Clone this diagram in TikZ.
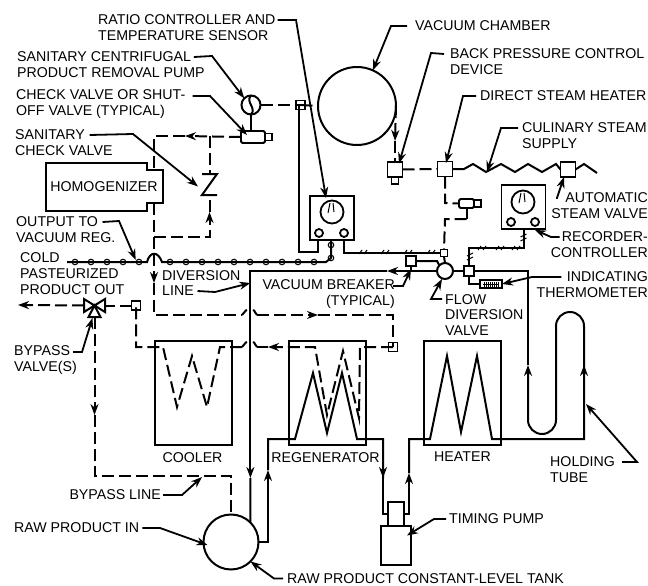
\documentclass[tikz,border=0pt]{standalone}
\usepackage{fontspec}
\setmainfont{Liberation Sans}
\usepackage{tikz}
\usetikzlibrary{arrows.meta}
\usetikzlibrary{positioning}

\begin{document}
\begin{tikzpicture}[
    x=1pt, y=-1pt,
    >={Stealth[length=11pt, width=8pt]},
    pipe/.style={line width=2pt},
    dashpipe/.style={line width=2pt, dash pattern=on 12pt off 5pt},
    leader/.style={->, line width=1.8pt},
    lbl/.style={inner sep=0pt, align=left, font=\fontsize{14.2}{15.9}\selectfont},
    lblw/.style={lbl, anchor=west},
    lble/.style={lbl, anchor=east, align=right},
    unit/.style={draw, line width=2pt, inner sep=0pt, outer sep=0pt, minimum width=77pt, minimum height=104pt},
    vessel/.style={draw, circle, line width=2pt, inner sep=0pt, outer sep=0pt},
    sq/.style={draw, line width=1.8pt, inner sep=0pt, outer sep=0pt, minimum size=#1},
    spot/.style={inner sep=0pt, outer sep=0pt, minimum width=#1},
    bead/.style={draw, circle, line width=1.1pt, inner sep=0pt, minimum size=5.5pt},
    port/.style={draw, circle, line width=1.8pt, inner sep=0pt, minimum size=8pt, fill=white},
    dial/.style={draw, circle, line width=1.8pt, inner sep=0pt, minimum size=23pt},
    needle/.style={line width=1pt},
    tick/.style={line width=1pt}
]
  \useasboundingbox (0,0) rectangle (648,586);

  % Vacuum chamber and removal pump
  \node[vessel, minimum size=78pt] (chamber) at (357,106) {};
  \node[vessel, minimum size=19pt] (pump) at (251,105) {};
  \draw[pipe] (pump.north) .. controls (245,102) and (257,108) .. (pump.south);
  \node[sq=9pt] (ratiosq) at (300.5,105) {};

  % Check valve below the pump
  \node[draw, line width=1.8pt, rounded corners=1.5pt, inner sep=0pt, outer sep=0pt, minimum width=24pt, minimum height=12pt] (chkvalve) at (253,137) {};
  \node[sq=7pt, right=0pt of chkvalve] (chknub) {};

  % Sanitary check valve
  \node[spot=15pt, minimum height=21pt] (sanchk) at (209.5,184.5) {};
  \draw[pipe] (sanchk.north west) -- (sanchk.north east) -- (sanchk.south west) -- (sanchk.south east);

  % Homogenizer
  \node[lbl] (homog) at (104,187) {HOMOGENIZER};
  \draw[pipe] (46,163) -- (147,163) -- (147,170) -- (163,170) -- (163,203) -- (147,203) -- (147,211) -- (46,211) -- cycle;

  % Ratio controller
  \node[sq=44pt] (ctrl) at (332,218) {};
  \node[dial] (ctrldial) at (332,212) {};
  \node[port] (ctrlporta) at (319,233) {};
  \node[port] (ctrlportb) at (344,233) {};

  % Recorder controller
  \node[sq=44pt] (recorder) at (523.5,207) {};
  \node[dial] (recdial) at (523,202) {};
  \node[port] (recporta) at (511,222) {};
  \node[port] (recportb) at (535,222) {};
  \foreach \d in {ctrldial, recdial} {
    \draw[needle] ([xshift=-4pt, yshift=-1pt]\d.center) -- ([xshift=-2pt, yshift=9pt]\d.center);
    \draw[needle] ([xshift=2pt, yshift=0pt]\d.center) -- ([xshift=1pt, yshift=9pt]\d.center);
  }

  % Steam side
  \node[sq=15pt] (backsq) at (395,169.5) {};
  \node[sq=7pt, below=0pt of backsq] (backnub) {};
  \node[sq=15pt] (steamsq) at (445,169) {};
  \node[sq=15pt] (steamvlv) at (568,169.5) {};
  \node[draw, line width=1.8pt, rounded corners=1.5pt, inner sep=0pt, outer sep=0pt, minimum width=15pt, minimum height=9pt] (steamchk) at (466.5,203.5) {};
  \node[sq=7pt, right=0pt of steamchk] (steamnub) {};

  % Flow diversion valve group
  \node[vessel, minimum size=16pt] (flowvlv) at (445,271) {};
  \node[sq=10pt] (thermsq) at (469,271) {};
  \node[sq=10pt] (breakersq) at (411,261) {};
  \node[sq=7pt] (smallsq) at (444,253) {};
  \node[draw, line width=1.8pt, inner sep=0pt, outer sep=0pt, minimum width=22pt, minimum height=8pt] (thermo) at (491,284) {};
  \draw[tick] (483,284) -- (499,284);
  \foreach \x in {484,486,...,498} {
    \draw[tick] (\x,281.5) -- (\x,286.5);
  }

  % Cooler, regenerator, heater
  \node[unit] (cooler) at (193.5,393) {};
  \node[unit] (regen) at (327.5,393) {};
  \node[unit] (heater) at (462.5,393) {};
  \node[lbl, below=7pt of cooler, xshift=-1pt] (coolerlbl) {COOLER};
  \node[lbl, below=7pt of regen, xshift=-2pt] (regenlbl) {REGENERATOR};
  \node[lbl, below=7pt of heater] (heaterlbl) {HEATER};

  % Tank and timing pump
  \node[vessel, minimum size=55pt] (tank) at (231,542) {};
  \node[sq=16pt, minimum height=24pt] (timinghead) at (396,514) {};
  \node[sq=30pt, minimum height=39pt, below=0pt of timinghead] (timing) {};

  % Bypass valve
  \node[spot=21pt, minimum height=13pt] (bypvlv) at (94.5,305.5) {};
  \draw[pipe] (bypvlv.north west) -- (bypvlv.south east) -- (bypvlv.north east) -- (bypvlv.south west) -- cycle;
  \node[spot=12pt, minimum height=6pt] (bypfoot) at (94.5,314) {};
  \draw[pipe] (bypvlv.center) -- (bypfoot.south west) -- (bypfoot.south east) -- cycle;
  \node[sq=9pt] (bypsq) at (136,305.5) {};
  \node[sq=9pt] (retsq) at (393,347) {};

  % Free ends and pipe bends
  \coordinate (coldout) at (18,305);
  \coordinate (coldend) at (67,262);
  \coordinate (divtop) at (250.4,271);

  % Pipes round the vacuum chamber
  \draw[dashpipe] (pump.east) -- (ratiosq.center);
  \draw[dashpipe] (ratiosq.center) -- (chamber.west);
  \draw[pipe] ([xshift=-2pt]ratiosq.center) |- (318,252) -- ([xshift=-14pt]ctrl.south);
  \draw[pipe] (pump.south) -- (251,131);
  \draw[dashpipe, ->] (chamber.east) -- (395,141);
  \draw[dashpipe] (395,141) -- (backsq.north);
  \draw[dashpipe] (backsq.east) -- (steamsq.west);

  % Dashed loop round the sanitary check valve
  \draw[dashpipe, ->] (chkvalve.west) -- (185,136);
  \draw[dashpipe] (185,136) -- (154,136) -- (154,170);
  \draw[dashpipe] (209.5,136) -- (sanchk.north);
  \draw[dashpipe, ->] (154,237) -- (209.5,237) -- (209.5,212);
  \draw[dashpipe] (209.5,212) -- (sanchk.south);

  % Diversion line
  \draw[dashpipe, ->] (154,203) -- (154,283);
  \draw[dashpipe] (154,283) -- (154,315) -- (242,315);
  \draw[dashpipe, ->] (257,315) -- (318,315);
  \draw[dashpipe] (318,315) -- (393,315) -- (retsq.center);
  \foreach \y in {315,347} {
    \draw[pipe] (242,\y) .. controls (244,\y-1) and (245,\y-5) .. (247,\y-5);
    \draw[pipe] (253,\y-5) .. controls (255,\y-5) and (255,\y-1) .. (257,\y);
  }

  % Cold product line
  \draw[pipe] (coldend) -- (147,262) .. controls (150,251) and (158,251) .. (162,262) -- (326,262) -- (331,258) -- ([xshift=-1pt]ctrl.south);
  \foreach \x in {75,91,...,139} {
    \node[bead] (beada\x) at (\x,262) {};
  }
  \foreach \x in {170,186,...,314} {
    \node[bead] (beadb\x) at (\x,262) {};
  }
  \node[bead] (beadc) at (331,258) {};
  \node[bead] (beadd) at (331,245) {};

  % Signal lines
  \draw[pipe] ([xshift=12pt]ctrl.south) |- (smallsq.west);
  \draw[pipe] (recorder.south) -- (523.5,248) -| (thermsq.north);
  \foreach \x/\y in {364/252,386/252,409/252,432/252,483/248,501/248,517/248} {
    \draw[tick] (\x-5,\y+2) -- (\x-2,\y-2);
    \draw[tick] (\x,\y+2) -- (\x+3,\y-2);
  }
  \foreach \x/\y in {523.5/238,470/257} {
    \draw[tick] (\x-3,\y-1) -- (\x+3,\y-4);
    \draw[tick] (\x-3,\y+3) -- (\x+3,\y);
  }

  % Steam lines
  \draw[pipe] (steamsq.east) -- (464,169) -- (473,164) -- (486,172) -- (501,164) -- (515,172) -- (528,164) -- (542,172) -- (556,164) -- (steamvlv.west);
  \draw[pipe] (steamvlv.east) -- (584,164) -- (597,173);
  \draw[dashpipe] (steamsq.south) -- (445,203) -- (steamchk.west);
  \draw[pipe] (steamchk.south) -- (466.5,219);
  \draw[dashpipe] (466.5,219) -- (445,219) -- (smallsq.north);

  % Flow diversion valve connections
  \draw[pipe] (smallsq.south) -- (flowvlv.north);
  \draw[pipe] (breakersq.east) -- (437,261) -- (flowvlv.north west);
  \draw[pipe] (breakersq.south) -- (411,271);
  \draw[pipe] (flowvlv.east) -- (thermsq.west);
  \draw[pipe] (thermsq.south) |- (thermo.west);
  \draw[pipe, ->] (flowvlv.west) -- (387,271);
  \draw[pipe, ->] (387,271) -- (divtop) -- (250.4,478);
  \draw[pipe] (250.4,478) -- (tank.north east);

  % Raw product through regenerator and timing pump
  \draw[pipe, ->] (tank.east) -- (268,542) -- (268,470);
  \draw[pipe] (268,470) -- (268,439) -- (295,439) -- (313,373) -- (327,433) -- (342,373) -- (357,439) -- (383,439) -- (383,478);
  \draw[pipe, <-] (383,478) -- (383,470);
  \draw[pipe] (383,478) |- (timinghead.west);
  \draw[pipe, ->] (timinghead.east) -| (409,473);
  \draw[pipe] (409,473) -- (409,439) -- (430,439) -- (447,356) -- (461,432) -- (477,356) -- (492,439) -- (584,439) -- (584,365);

  % Holding tube
  \draw[pipe, <-] (584,365) -- (584,372);
  \draw[pipe, rounded corners=14pt, ->] (584,365) -- (584,312) -- (556,312) -- (556,434) -- (528,434) -- (528,365);
  \draw[pipe] (528,365) -- (528,271) -- (thermsq.east);

  % Dashed coils
  \draw[dashpipe] (retsq.center) -- (360,347) -- (359,418) -- (343,351) -- (327,415) -- (315,347) -- (268,347);
  \draw[pipe, ->] (276,347) -- (268,347);
  \draw[dashpipe] (268,347) -- (257,347);
  \draw[dashpipe] (242,347) -- (220,347) -- (207,407) -- (192,356) -- (177,407) -- (163,347) -- (136,347) -- (bypsq.center);
  \draw[dashpipe] (bypsq.west) -- (bypvlv.east);
  \draw[dashpipe, ->] (bypvlv.west) -- (coldout);

  % Bypass line
  \draw[dashpipe, ->] (bypfoot.south) -- (94.5,415);
  \draw[dashpipe] (94.5,415) -- (94.5,476) -- (231,476) -- (tank.north);

  % Labels and their leaders
  \node[lblw] (ratiolbl) at (98,28) {RATIO CONTROLLER AND\\TEMPERATURE SENSOR};
  \draw[leader] ([xshift=2pt, yshift=8pt]ratiolbl.east) -- (296,20) -- ([xshift=-6pt, yshift=-2pt]ctrl.north);

  \node[lblw] (pumplbl) at (17,65) {SANITARY CENTRIFUGAL\\PRODUCT REMOVAL PUMP};
  \draw[leader] ([xshift=-11pt, yshift=8pt]pumplbl.east) -- (212,56) -- (pump.135);

  \node[lblw] (chklbl) at (16,104) {CHECK VALVE OR SHUT-\\OFF VALVE (TYPICAL)};
  \draw[leader] ([xshift=7pt, yshift=8pt]chklbl.east) -- (210,96) -- ([xshift=-6pt, yshift=2pt]chkvalve.center);

  \node[lblw] (sanlbl) at (15,143) {SANITARY\\CHECK VALVE};
  \draw[leader] ([xshift=-23pt, yshift=8pt]sanlbl.east) -- (133,134) -- ([xshift=-4pt, yshift=-2pt]sanchk.west);

  \node[lblw] (outlbl) at (16,230) {OUTPUT TO\\VACUUM REG.};
  \draw[leader] ([xshift=-13pt, yshift=8pt]outlbl.east) -- (119,221) -- ([yshift=2pt]beada139.west);

  \node[lblw] (coldlbl) at (20,274) {COLD\\PASTEURIZED\\PRODUCT OUT};

  \node[lblw] (divlbl) at (162,283) {DIVERSION\\LINE};
  \draw[leader] ([xshift=-43pt, yshift=-8pt]divlbl.east) -- (215,292) -- ([yshift=-12pt]divtop);

  \node[lble] (breakerlbl) at (395,294) {VACUUM BREAKER\hspace{5pt}\\(TYPICAL)};
  \draw[leader] ([xshift=-2pt, yshift=8pt]breakerlbl.east) -- (403,286) -- ([yshift=-3pt]breakersq.south);

  \node[lblw] (chamberlbl) at (415,26) {VACUUM CHAMBER};
  \draw[leader] ([xshift=-8pt]chamberlbl.west) -- (391,26) -- (chamber.66);

  \node[lblw] (backlbl) at (450,62) {BACK PRESSURE CONTROL\\DEVICE};
  \draw[leader] ([xshift=-6pt, yshift=8pt]backlbl.west) -- (431,53) -- ([xshift=4pt, yshift=6pt]backsq.center);

  \node[lblw] (steamlbl) at (480,96) {DIRECT STEAM HEATER};
  \draw[leader] ([xshift=-4pt]steamlbl.west) -- (463,96) -- ([xshift=1pt, yshift=6pt]steamsq.center);

  \node[lblw] (supplylbl) at (522,136) {CULINARY STEAM\\SUPPLY};
  \draw[leader] ([xshift=-4pt, yshift=8pt]supplylbl.west) -- (501,128) -- (487,172);

  \node[lble] (autolbl) at (648,206) {AUTOMATIC\\STEAM VALVE};
  \draw[leader] ([xshift=5pt, yshift=8pt]autolbl.west) -- (557,198) -- ([xshift=-4pt, yshift=0pt]steamvlv.south);

  \node[lble] (reclbl) at (648,245) {RECORDER-\\CONTROLLER};
  \draw[leader] ([xshift=9pt, yshift=8pt]reclbl.west) -- (551,237) -- ([yshift=-3pt]recportb.south);

  \node[lble] (thermlbl) at (648,285) {INDICATING\\THERMOMETER};
  \draw[leader] ([xshift=25pt, yshift=8pt]thermlbl.west) -- (532,277) -- (thermo.east);

  \node[lblw] (flowlbl) at (445,315) {FLOW\\DIVERSION\\VALVE};
  \draw[leader] ([xshift=-3pt, yshift=16pt]flowlbl.west) -- (431,299) -- ([xshift=-3pt]flowvlv.south);

  \node[lblw] (bypasslbl) at (14,360) {BYPASS\\VALVE(S)};
  \draw[leader] ([xshift=-4pt, yshift=8pt]bypasslbl.east) -- (82,352) -- ([xshift=-2pt, yshift=-1pt]bypfoot.south);

  \node[lble] (bylinelbl) at (161,495) {BYPASS LINE};
  \draw[leader] ([xshift=2pt]bylinelbl.east) -- (182,495) -- (202,477);

  \node[lblw] (rawlbl) at (14,528) {RAW PRODUCT IN};
  \draw[leader] ([xshift=3pt]rawlbl.east) -- (160,528) -- ([xshift=4pt, yshift=-3pt]tank.west);

  \node[lblw] (tanklbl) at (287,578.5) {RAW PRODUCT CONSTANT-LEVEL TANK};
  \draw[leader] ([xshift=-4pt]tanklbl.west) -- (274,578.5) -- (tank.-45);

  \node[lblw] (timinglbl) at (449,519) {TIMING PUMP};
  \draw[leader] ([xshift=-3pt]timinglbl.west) -- (434,519) -- ([xshift=-4pt, yshift=10pt]timing.east);

  \node[lblw] (holdlbl) at (550,470) {HOLDING\\TUBE};
  \draw[leader] ([xshift=7pt, yshift=8pt]holdlbl.east) -- (637,462) -- (586,404);

\end{tikzpicture}
\end{document}
